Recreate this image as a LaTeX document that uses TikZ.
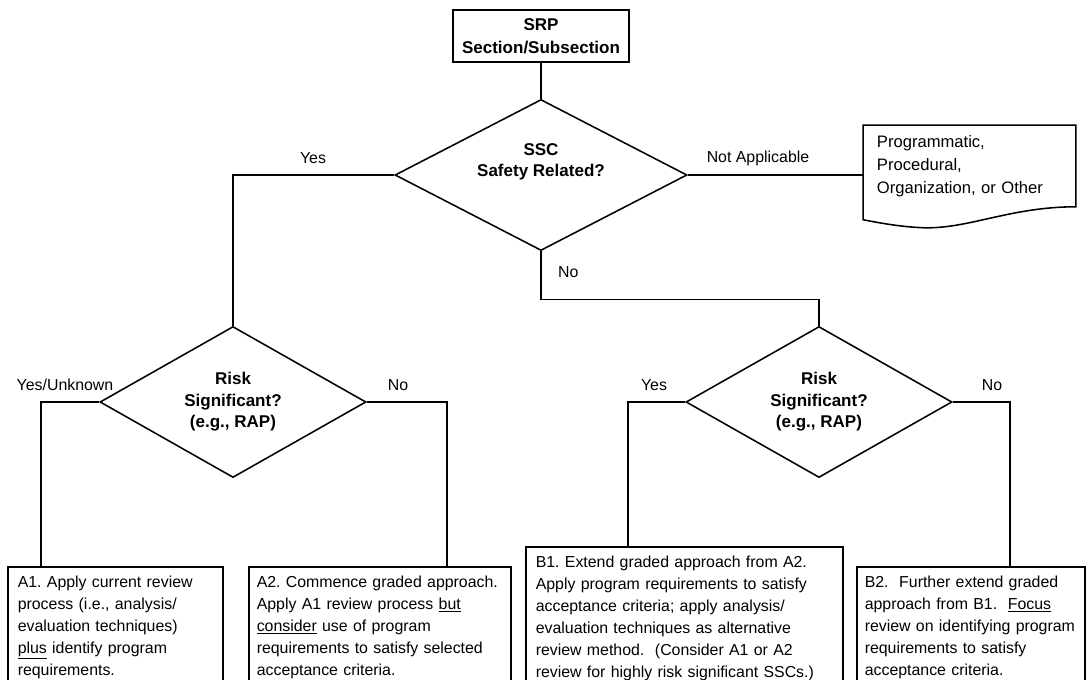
\documentclass[tikz,border=0pt]{standalone}
\usepackage{fontspec}
\setmainfont{Liberation Sans}
\usepackage{tikz}
\usetikzlibrary{positioning,calc,shapes.geometric}
\hyphenpenalty=10000
\exhyphenpenalty=10000
\frenchspacing

\begin{document}
\begin{tikzpicture}[
    x=0.025cm, y=-0.025cm,
    line width=1.1pt,
    every node/.style={font=\fontsize{11.3}{15.6}\selectfont},
    titlebox/.style={draw, minimum width=4.4cm, minimum height=1.3cm, align=center, font=\fontsize{12.1}{16.4}\selectfont\bfseries},
    decision/.style={draw, diamond, aspect=2, inner sep=0pt, minimum height=3.775cm, align=center, font=\fontsize{12.1}{15.3}\selectfont\bfseries},
    docbox/.style={minimum width=5.275cm, minimum height=2cm, text width=4.625cm, align=left, inner sep=0pt, font=\fontsize{11.8}{16.4}\selectfont},
    outbox/.style={draw, anchor=north west, align=left, inner xsep=0.25cm, inner ysep=6.5pt},
    lbl/.style={inner sep=1pt},
]

\useasboundingbox (0,0) rectangle (1087,679);
\clip (0,0) rectangle (1087,679);

% ---- Top: section and first question ----
\node[titlebox] (srp) at (541,36) {SRP\\Section/Subsection};
\node[decision, minimum width=7.3cm] (ssc) at (541,175) {SSC\\Safety Related?\\[6pt]};
\node[docbox] (other) at (969.5,166) {Programmatic,\\Procedural,\\Organization, or Other};

\draw (srp) -- (ssc);
\draw (ssc.east) -- (ssc.east -| other.west);

% document outline with wavy bottom
\draw (other.north west) -- (other.north east) -- (other.south east)
    .. controls ($(other.south east)+(-65,0)$) and ($(other.south west)+(106,22)$) .. ($(other.south west)+(61,21)$)
    .. controls ($(other.south west)+(36,20)$) and ($(other.south west)+(16,16)$) .. ($(other.south west)+(0,13)$)
    -- cycle;

\node[lbl] (lblyes) at (313,158) {Yes};
\node[lbl] (lblna) at (758,158) {Not Applicable};
\node[lbl, anchor=west] (lblno) at (556,272) {No};

% ---- Middle: risk significance ----
\node[decision, minimum width=6.65cm] (riskA) at (233,402) {Risk\\Significant?\\(e.g., RAP)};
\node[decision, minimum width=6.65cm] (riskB) at (819,402) {Risk\\Significant?\\(e.g., RAP)};

\draw (ssc.west) -| (riskA.north);
\draw (ssc.south) -- ++(0,48) -| (riskB.north);

\node[lbl] (lblyesunk) at (65,385) {Yes/Unknown};
\node[lbl] (lblnoA) at (398,385) {No};
\node[lbl] (lblyesB) at (654,385) {Yes};
\node[lbl] (lblnoB) at (992,385) {No};

% ---- Bottom: review approach ----
\node[outbox, text width=4.875cm] (a1) at (7,566) {A1. Apply current review\\process (i.e., analysis/\\evaluation techniques)\\\underline{plus} identify program\\requirements.};
\node[outbox, inner xsep=0.2cm, text width=6.15cm] (a2) at (248,566) {A2. Commence graded approach.\\Apply A1 review process \underline{but}\\\underline{consider} use of program\\requirements to satisfy selected\\acceptance criteria.};
\node[outbox, text width=7.425cm] (b1) at (525,546) {B1. Extend graded approach from A2.\\Apply program requirements to satisfy\\acceptance criteria; apply analysis/\\evaluation techniques as alternative\\review method.\ \ (Consider A1 or A2\\review for highly risk significant SSCs.)};
\node[outbox, inner xsep=0.2cm, text width=5.3cm] (b2) at (856,566) {B2.\ \ Further extend graded\\approach from B1.\ \ \underline{Focus}\\review on identifying program\\requirements to satisfy\\acceptance criteria.};

\draw (riskA.west) -| ($(a1.north west)+(34,0)$);
\draw (riskA.east) -| ($(a2.north west)+(199,0)$);
\draw (riskB.west) -| ($(b1.north west)+(103,0)$);
\draw (riskB.east) -| ($(b2.north west)+(154,0)$);

\end{tikzpicture}
\end{document}
